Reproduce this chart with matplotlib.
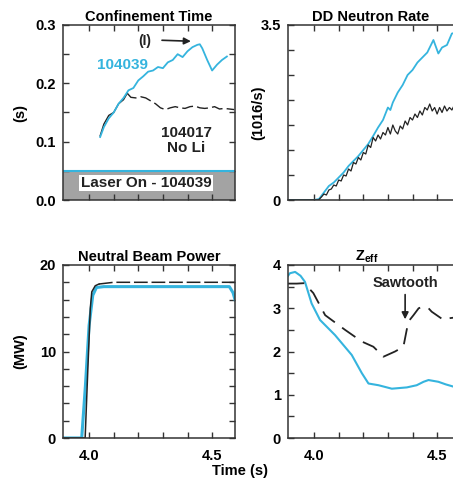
import matplotlib
matplotlib.use('Agg')
import matplotlib.pyplot as plt
from matplotlib.ticker import MultipleLocator, FixedLocator

plt.rcParams['font.family'] = ['Liberation Sans', 'DejaVu Sans']
plt.rcParams['font.weight'] = 'bold'
plt.rcParams['axes.titleweight'] = 'bold'
plt.rcParams['axes.labelweight'] = 'bold'
plt.rcParams['mathtext.fontset'] = 'custom'
plt.rcParams['mathtext.rm'] = 'Liberation Sans:bold'
plt.rcParams['mathtext.it'] = 'Liberation Sans:bold'
plt.rcParams['mathtext.bf'] = 'Liberation Sans:bold'
plt.rcParams['mathtext.default'] = 'regular'

CYAN = '#35b4de'
BLACK = '#222222'
GRAY = '#a3a3a3'

T_MIN, T_MAX = 3.894, 4.593

# Confinement time (s)
tau_li_t = [4.045, 4.06, 4.08, 4.10, 4.12, 4.14, 4.16, 4.18, 4.20, 4.22, 4.24, 4.26,
            4.28, 4.30, 4.32, 4.34, 4.36, 4.38, 4.40, 4.42, 4.44, 4.45, 4.46, 4.48,
            4.50, 4.52, 4.54, 4.56]
tau_li = [0.108, 0.125, 0.14, 0.15, 0.165, 0.175, 0.188, 0.192, 0.205, 0.212, 0.22, 0.222,
          0.228, 0.226, 0.236, 0.24, 0.25, 0.245, 0.255, 0.262, 0.266, 0.267, 0.26, 0.24,
          0.222, 0.232, 0.24, 0.246]
tau_noli_t1 = [4.045, 4.06, 4.08, 4.10, 4.12, 4.14, 4.155]
tau_noli_1 = [0.11, 0.13, 0.145, 0.15, 0.165, 0.172, 0.183]
tau_noli_t2 = [4.155, 4.17, 4.19, 4.21, 4.23, 4.25, 4.27, 4.29, 4.31, 4.33, 4.35, 4.37,
               4.39, 4.41, 4.43, 4.45, 4.47, 4.49, 4.51, 4.53, 4.55, 4.57, 4.59]
tau_noli_2 = [0.183, 0.176, 0.175, 0.177, 0.175, 0.17, 0.165, 0.158, 0.155, 0.158, 0.16,
              0.158, 0.157, 0.16, 0.161, 0.158, 0.157, 0.158, 0.16, 0.156, 0.157, 0.156, 0.155]
laser_level = 0.05

# DD neutron rate (1e16/s)
nr_li_t = [3.894, 3.95, 4.0, 4.02, 4.04, 4.06, 4.08, 4.10, 4.12, 4.14, 4.16, 4.18, 4.20,
           4.22, 4.24, 4.26, 4.28, 4.30, 4.31, 4.32, 4.34, 4.36, 4.38, 4.40, 4.42, 4.44,
           4.46, 4.485, 4.505, 4.52, 4.54, 4.56, 4.58, 4.593]
nr_li = [0, 0.0, 0.0, 0.02, 0.15, 0.28, 0.35, 0.45, 0.55, 0.68, 0.78, 0.88, 1.0,
         1.12, 1.28, 1.45, 1.6, 1.85, 1.8, 1.95, 2.15, 2.3, 2.5, 2.6, 2.75, 2.85,
         2.95, 3.2, 2.93, 3.05, 3.1, 3.33, 3.35, 3.4]
nr_noli_t = [3.894, 4.0, 4.018, 4.03, 4.04, 4.05, 4.06, 4.07, 4.08, 4.09, 4.10, 4.11,
             4.12, 4.13, 4.14, 4.15, 4.16, 4.17, 4.18, 4.19, 4.20, 4.21, 4.22, 4.23,
             4.24, 4.25, 4.26, 4.27, 4.28, 4.29, 4.30, 4.31, 4.32, 4.33, 4.34, 4.35,
             4.36, 4.37, 4.38, 4.39, 4.40, 4.41, 4.42, 4.43, 4.44, 4.45, 4.46, 4.47,
             4.48, 4.49, 4.50, 4.51, 4.52, 4.53, 4.54, 4.55, 4.56, 4.57, 4.58, 4.593]
nr_noli = [0, 0, 0.0, 0.06, 0.12, 0.10, 0.2, 0.22, 0.3, 0.28, 0.4, 0.38,
           0.5, 0.48, 0.62, 0.58, 0.75, 0.72, 0.85, 0.8, 0.95, 0.92, 1.1, 1.05,
           1.25, 1.18, 1.3, 1.22, 1.35, 1.3, 1.45, 1.32, 1.5, 1.38, 1.32, 1.48,
           1.42, 1.58, 1.5, 1.65, 1.6, 1.72, 1.65, 1.78, 1.7, 1.85, 1.8, 1.92,
           1.78, 1.85, 1.72, 1.85, 1.75, 1.88, 1.78, 1.85, 1.8, 1.9, 1.82, 1.88]

# Neutral beam power (MW)
nb_li_t = [3.894, 3.97, 3.985, 4.0, 4.015, 4.03, 4.06, 4.2, 4.4, 4.57, 4.585, 4.593]
nb_li = [0, 0, 6, 13, 16.5, 17.4, 17.5, 17.5, 17.5, 17.5, 16.8, 16.0]
nb_noli_t1 = [3.894, 3.984, 3.995, 4.005, 4.011, 4.025, 4.04]
nb_noli_1 = [0, 0, 8, 15.0, 16.9, 17.6, 17.8]
nb_noli_t2 = [4.04, 4.1, 4.3, 4.5, 4.593]
nb_noli_2 = [17.8, 18, 18, 18, 18]

# Zeff
z_li_t = [3.894, 3.902, 3.923, 3.945, 3.963, 3.99, 4.024, 4.085, 4.153, 4.194, 4.221,
          4.262, 4.316, 4.377, 4.417, 4.445, 4.465, 4.505, 4.535, 4.565, 4.593]
z_li = [3.75, 3.81, 3.84, 3.75, 3.61, 3.11, 2.73, 2.38, 1.92, 1.5, 1.26,
        1.22, 1.14, 1.17, 1.22, 1.3, 1.34, 1.30, 1.24, 1.19, 1.15]
z_noli_t = [3.894, 3.93, 3.96, 3.997, 4.045, 4.126, 4.194, 4.241, 4.282, 4.329, 4.363,
            4.383, 4.404, 4.425, 4.444, 4.465, 4.478, 4.526, 4.55, 4.593]
z_noli = [3.57, 3.57, 3.58, 3.35, 2.84, 2.5, 2.23, 2.11, 1.88, 2.0, 2.11,
          2.69, 2.84, 3.0, 3.04, 3.0, 2.92, 2.73, 2.77, 2.8]


def style_axes(ax, show_xlabels):
    ax.set_xlim(T_MIN, T_MAX)
    ax.xaxis.set_major_locator(FixedLocator([4.0, 4.5]))
    ax.xaxis.set_minor_locator(FixedLocator([4.1, 4.2, 4.3, 4.4]))
    ax.tick_params(which='both', direction='in', top=True, right=True,
                   length=4, width=1.0, color='#333333', labelsize=10.5)
    ax.tick_params(axis='y', pad=5)
    ax.tick_params(axis='x', pad=8)
    for s in ax.spines.values():
        s.set_linewidth(1.1)
        s.set_color('#333333')
    if not show_xlabels:
        ax.set_xticklabels([])
    else:
        ax.set_xticklabels(['4.0', '4.5'])


fig = plt.figure(figsize=(4.53, 4.88), dpi=100)
W = 172 / 453
ax1 = fig.add_axes([63 / 453, 1 - 200 / 488, W, 175 / 488])
ax2 = fig.add_axes([288 / 453, 1 - 200 / 488, W, 175 / 488])
ax3 = fig.add_axes([63 / 453, 1 - 438 / 488, W, 173 / 488])
ax4 = fig.add_axes([288 / 453, 1 - 438 / 488, W, 173 / 488])

# Confinement time
ax1.fill_between([T_MIN, T_MAX], 0, laser_level, color=GRAY, lw=0)
ax1.axhline(laser_level, color=CYAN, lw=1.5)
ax1.plot(tau_noli_t1, tau_noli_1, color=BLACK, lw=1.0)
ax1.plot(tau_noli_t2, tau_noli_2, color=BLACK, lw=1.0, ls=(0, (8, 3)))
ax1.plot(tau_li_t, tau_li, color=CYAN, lw=1.3)
ax1.set_ylim(0, 0.3)
ax1.yaxis.set_major_locator(MultipleLocator(0.1))
ax1.yaxis.set_minor_locator(MultipleLocator(0.05))
ax1.yaxis.set_major_formatter(plt.FormatStrFormatter('%.1f'))
ax1.set_title('Confinement Time', fontsize=10.5, pad=3)
ax1.set_ylabel('(s)', fontsize=10.5)
ax1.yaxis.set_label_coords(-0.21, 0.5)
ax1.text(4.134, 0.232, '104039', color=CYAN, fontsize=11, ha='center', va='center')
ax1.text(4.394, 0.115, '104017', color=BLACK, fontsize=11, ha='center', va='center')
ax1.text(4.394, 0.089, 'No Li', color=BLACK, fontsize=11, ha='center', va='center')
ax1.text(4.228, 0.272, '(I)', color=BLACK, fontsize=10, ha='center', va='center')
ax1.annotate('', xy=(4.425, 0.272), xytext=(4.285, 0.274),
             arrowprops=dict(arrowstyle='-|>', color=BLACK, lw=1.2, mutation_scale=10))
ax1.text(4.232, 0.029, 'Laser On - 104039', color=BLACK, fontsize=11, ha='center',
         va='center', bbox=dict(facecolor='white', edgecolor='none', pad=1))
style_axes(ax1, False)

# DD neutron rate
ax2.plot(nr_li_t, nr_li, color=CYAN, lw=1.3)
ax2.plot(nr_noli_t, nr_noli, color=BLACK, lw=0.9)
ax2.set_ylim(0, 3.5)
ax2.yaxis.set_major_locator(FixedLocator([0, 3.5]))
ax2.yaxis.set_minor_locator(FixedLocator([0.5, 1.0, 1.5, 2.0, 2.5, 3.0]))
ax2.set_yticklabels(['0', '3.5'])
ax2.set_title('DD Neutron Rate', fontsize=10.5, pad=3, x=0.48)
ax2.set_ylabel('(1016/s)', fontsize=10.5)
ax2.yaxis.set_label_coords(-0.135, 0.5)
style_axes(ax2, False)

# Neutral beam power
ax3.plot(nb_li_t, nb_li, color=CYAN, lw=2.2)
ax3.plot(nb_noli_t1, nb_noli_1, color=BLACK, lw=1.1)
ax3.plot(nb_noli_t2, nb_noli_2, color=BLACK, lw=1.1, ls=(0, (9, 2.5)))
ax3.set_ylim(0, 20)
ax3.yaxis.set_major_locator(MultipleLocator(10))
ax3.yaxis.set_minor_locator(MultipleLocator(2))
ax3.set_title('Neutral Beam Power', fontsize=10.5, pad=3)
ax3.set_ylabel('(MW)', fontsize=10.5)
ax3.yaxis.set_label_coords(-0.21, 0.5)
style_axes(ax3, True)

# Zeff
ax4.plot(z_li_t, z_li, color=CYAN, lw=1.5)
ax4.plot(z_noli_t, z_noli, color=BLACK, lw=1.3, ls=(0, (9, 5)))
ax4.set_ylim(0, 4)
ax4.yaxis.set_major_locator(MultipleLocator(1))
ax4.yaxis.set_minor_locator(MultipleLocator(0.5))
ax4.set_title('Z$_{eff}$', fontsize=10.5, pad=3, x=0.46)
ax4.text(4.37, 3.58, 'Sawtooth', color=BLACK, fontsize=10.5, ha='center', va='center')
ax4.annotate('', xy=(4.37, 2.68), xytext=(4.37, 3.38),
             arrowprops=dict(arrowstyle='-|>', color=BLACK, lw=1.2, mutation_scale=10))
style_axes(ax4, True)

fig.text(240 / 453, 1 - 471 / 488, 'Time (s)', fontsize=10.5, ha='center', va='center')

fig.savefig('out.png', dpi=100)
